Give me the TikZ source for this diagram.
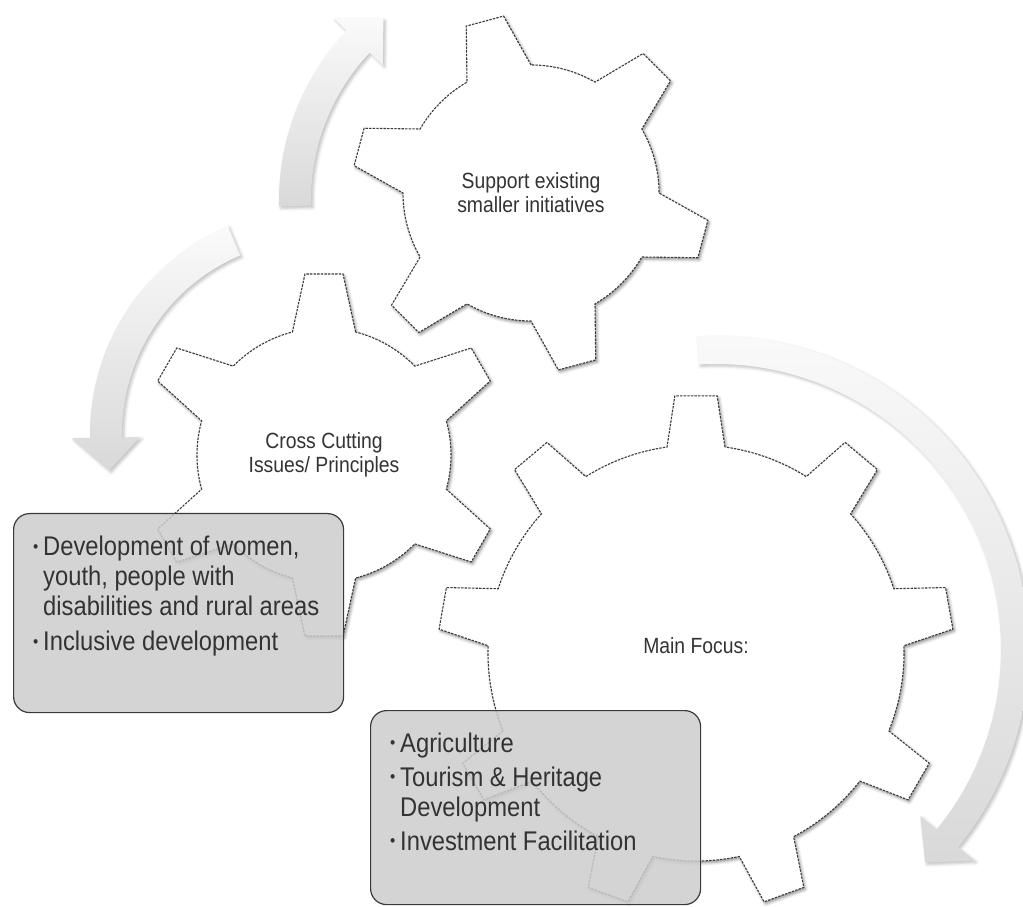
\documentclass[tikz,border=0pt]{standalone}
\usepackage{fontspec}
\setmainfont{Liberation Sans}[FakeStretch=0.88]
\usetikzlibrary{positioning,shadows.blur}

\definecolor{gearline}{HTML}{3A3A3A}
\definecolor{inktext}{HTML}{333333}
\definecolor{panelfill}{HTML}{CDCDCD}
\definecolor{paneledge}{HTML}{3A3A3A}

% gear outline: center, teeth, first tooth angle, root radius, tip radius, root half angle, tip half angle
\newcommand{\gearpath}[7]{%
  \draw[gear, shift={#1}] (#3-#6:#4)
    \foreach \i [evaluate=\i as \ang using #3+(\i-1)*360/#2] in {1,...,#2} {
      -- (\ang-#7:#5) -- (\ang+#7:#5) -- (\ang+#6:#4)
      arc[start angle=\ang+#6, end angle=\ang+360/#2-#6, radius=#4]
    } -- cycle;}

% curved block arrow: center, radius, half width, head half width, tail angle, neck angle, tip angle
\newcommand{\bendarrow}[7]{%
  \path[flow, shift={#1}] (#5:#2+#3) arc[start angle=#5, end angle=#6, radius=#2+#3]
    -- (#6:#2+#4) -- (#7:#2) -- (#6:#2-#4) -- (#6:#2-#3)
    arc[start angle=#6, end angle=#5, radius=#2-#3] -- cycle;}

\newcommand{\bul}{\makebox[10pt][l]{\raisebox{3.5pt}{\fontsize{17}{17}\selectfont\textbullet}}}

\begin{document}
\begin{tikzpicture}[x=1pt, y=1pt,
  gear/.style={fill=white, draw=gearline, line width=1.1pt, dash pattern=on 2.4pt off 1.2pt,
    blur shadow={shadow xshift=1.5pt, shadow yshift=-2pt, shadow blur radius=3pt, shadow opacity=45}},
  flow/.style={top color=black!2, bottom color=black!15,
    blur shadow={shadow xshift=2pt, shadow yshift=-2pt, shadow blur radius=3pt, shadow opacity=25}},
  panel/.style={draw=paneledge, line width=1.2pt, fill=panelfill, fill opacity=0.85,
    rounded corners=16pt, anchor=north west, inner sep=0pt},
  gearlabel/.style={text=inktext, align=center, font=\fontsize{22}{24}\selectfont},
  bullets/.style={text=inktext, inner sep=0pt, anchor=base west, font=\fontsize{27}{30}\selectfont}]

\useasboundingbox (0,0) rectangle (1023,906);

\coordinate (g1) at (531,713);
\coordinate (g2) at (324,451);
\coordinate (g3) at (696,253);

\bendarrow{(525,706)}{230}{16}{34}{181.5}{136.5}{128}
\bendarrow{(316,472)}{210}{16}{34}{113}{181}{190}
\bendarrow{(716,257)}{299}{14}{35}{93.5}{-39.3}{-45.6}

\gearpath{(g1)}{6}{105}{128}{179}{15}{6.2}
\gearpath{(g2)}{6}{90}{127}{182}{14.4}{6}
\gearpath{(g3)}{9}{90}{208}{258}{8}{4.7}

\node[gearlabel] (support) at (g1) {Support existing\\smaller initiatives};
\node[gearlabel] (cross) at (g2) {Cross Cutting\\Issues/ Principles};
\node[gearlabel] (focus) at (696,260) {Main Focus:};

\node[panel, minimum width=330, minimum height=199] (crossbox) at (13,393) {};
\node[panel, minimum width=330, minimum height=194] (focusbox) at (370,196) {};

\node[bullets] (crosslist) at ([xshift=20pt, yshift=-43pt]crossbox.north west)
  {\begin{tabular}[t]{@{}l@{}l@{}}
   \bul & Development of women,\\
        & youth, people with\\
        & disabilities and rural areas\\[5pt]
   \bul & Inclusive development
   \end{tabular}};
\node[bullets] (focuslist) at ([xshift=20pt, yshift=-42pt]focusbox.north west)
  {\begin{tabular}[t]{@{}l@{}l@{}}
   \bul & Agriculture\\[4pt]
   \bul & Tourism \& Heritage\\
        & Development\\[4pt]
   \bul & Investment Facilitation
   \end{tabular}};
\end{tikzpicture}
\end{document}
